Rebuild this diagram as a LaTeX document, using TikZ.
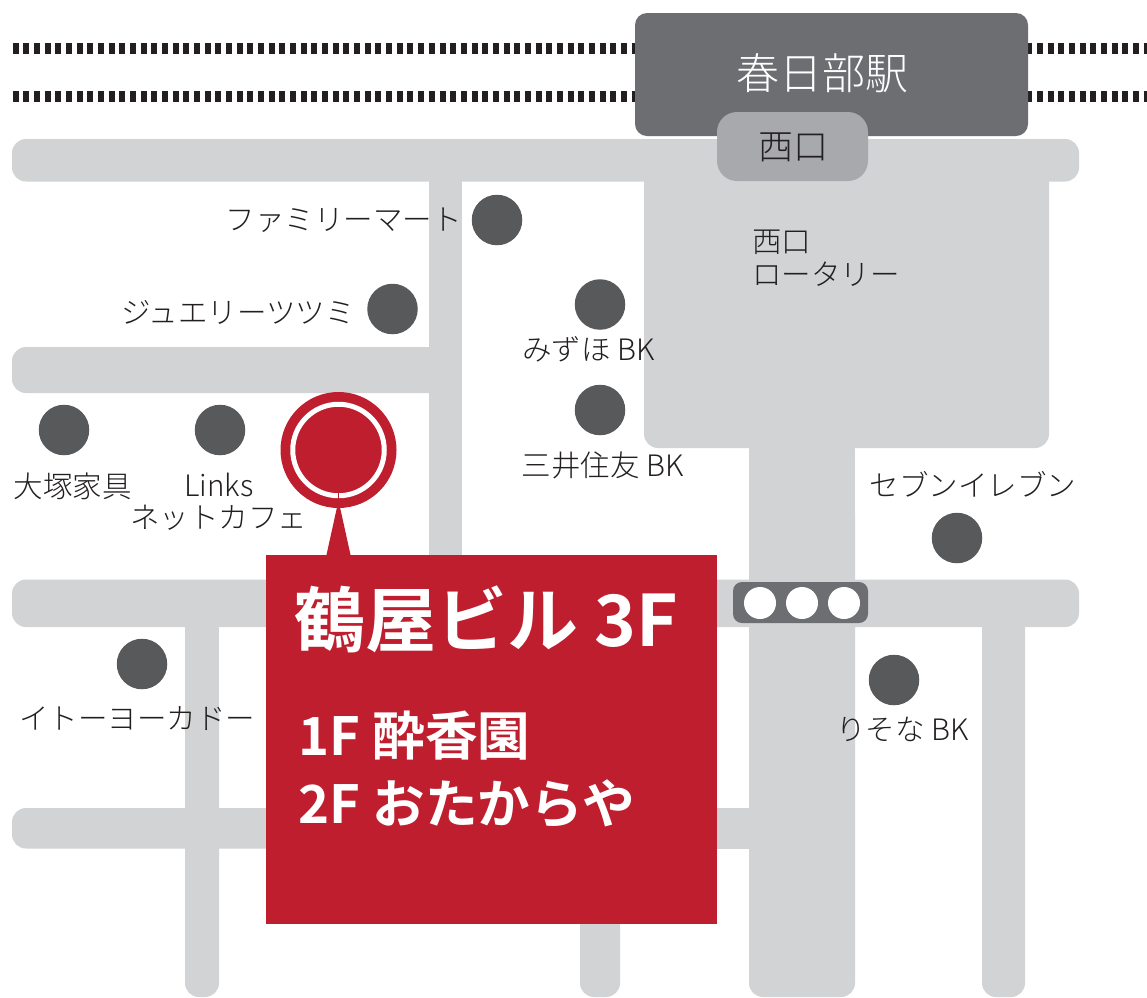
\documentclass[tikz,border=0pt]{standalone}
\usepackage{fontspec}
\IfFontExistsTF{Noto Sans CJK JP Light}{\newfontfamily\thinjp{Noto Sans CJK JP Light}}{\newfontfamily\thinjp{Noto Sans CJK JP}}
\newfontfamily\boldjp{Noto Sans CJK JP Bold}
\definecolor{road}{HTML}{D1D3D4}
\definecolor{station}{HTML}{6D6E71}
\definecolor{exitbox}{HTML}{A7A9AC}
\definecolor{poidot}{HTML}{58595B}
\definecolor{pinred}{HTML}{BE1E2D}
\definecolor{ink}{HTML}{231F20}
\newcommand{\fs}[1]{\fontsize{#1}{#1}\selectfont}
\tikzset{
  roadfill/.style={fill=road,draw=none},
  rail/.style={draw=ink,line width=11pt,dash pattern=on 6pt off 4.67pt},
  poi/.style={circle,fill=poidot,minimum size=50.5pt,inner sep=0pt},
  lab/.style={anchor=base west,inner sep=0pt,text=ink,font=\thinjp\fs{29.5}},
  lamp/.style={circle,fill=white,minimum size=32pt,inner sep=0pt},
  boxtext/.style={anchor=base west,inner sep=0pt,text=white,font=\boldjp\fs{52.6}}
}
\begin{document}
\begin{tikzpicture}[x=1pt,y=-1pt]
\useasboundingbox (0,0) rectangle (1147,997);
\fill[white] (0,0) rectangle (1147,997);
% rails
\coordinate (r1a) at (12.7,48.5); \coordinate (r1b) at (1147,48.5);
\coordinate (r2a) at (12.7,96); \coordinate (r2b) at (1147,96);
\draw[rail] (r1a) -- (r1b);
\draw[rail] (r2a) -- (r2b);
% roads
\fill[roadfill] (429,170) rectangle (462,590);
\fill[roadfill,rounded corners=14pt] (12,139) rectangle (1079,181.5);
\fill[roadfill,rounded corners=14pt] (12,347) rectangle (470,393);
\fill[white] (462,340) rectangle (480,400);
\fill[roadfill,rounded corners=14pt] (12,579.5) rectangle (1079,627);
\fill[roadfill,rounded corners=14pt] (12,808) rectangle (300,848.5);
\fill[roadfill] (280,808) rectangle (750,848.5);
\fill[roadfill,rounded corners=14pt] (185,700) -- (185,997) -- (219,997) -- (219,700) -- cycle;
\fill[roadfill,rounded corners=14pt] (580,880) -- (580,997) -- (620,997) -- (620,880) -- cycle;
\fill[roadfill,rounded corners=14pt] (749,500) -- (749,997) -- (855,997) -- (855,500) -- cycle;
\fill[roadfill,rounded corners=14pt] (982,610) -- (982,997) -- (1025,997) -- (1025,610) -- cycle;
\fill[roadfill] (185,620) rectangle (219,720);
\fill[roadfill] (749,440) rectangle (855,600);
\fill[roadfill] (982,620) rectangle (1025,720);
\fill[roadfill,rounded corners=14pt] (644,160) -- (644,448) -- (1049,448) -- (1049,160) -- cycle;
\fill[roadfill] (644,170) rectangle (1049,230);
% station
\node[fill=station,rounded corners=12pt,minimum width=393pt,minimum height=123pt,inner sep=0pt] (eki) at (831.5,74.5) {};
\node[fill=exitbox,rounded corners=20pt,minimum width=151pt,minimum height=69pt,inner sep=0pt] (exitb) at (792.5,146.5) {};
\node[lab,font=\thinjp\fs{43},text=white] (ekiname) at (736,89) {春日部駅};
\node[lab,font=\thinjp\fs{35}] (exitname) at (758,159) {西口};
% points of interest
\node[poi] (famima) at (497,220) {};
\node[poi] (jewel) at (392.5,309) {};
\node[poi] (mizuho) at (600,304.5) {};
\node[poi] (mitsui) at (600,410) {};
\node[poi] (otsuka) at (64,430) {};
\node[poi] (links) at (220,430) {};
\node[poi] (ito) at (142,664) {};
\node[poi] (resona) at (894,680) {};
\node[poi] (seven) at (957,538) {};
% labels
\node[lab] (t1) at (225.5,230) {ファミリーマート};
\node[lab] (t2) at (121,323) {ジュエリーツツミ};
\node[lab] (t3) at (522,360) {みずほ BK};
\node[lab] (t4) at (521.5,476) {三井住友 BK};
\node[lab] (t5) at (13.5,497) {大塚家具};
\node[lab] (t6) at (184,496) {Links};
\node[lab] (t7) at (130,528) {ネットカフェ};
\node[lab] (t8) at (19,729) {イトーヨーカドー};
\node[lab] (t9) at (836,740) {りそな BK};
\node[lab] (t10) at (869.5,496) {セブンイレブン};
\node[lab] (t11) at (752,252) {西口};
\node[lab] (t12) at (752,285) {ロータリー};
% traffic signal
\node[fill=station,rounded corners=9pt,minimum width=135pt,minimum height=41pt,inner sep=0pt] (signal) at (800.5,602.5) {};
\node[lamp] (s1) at (760,603) {};
\node[lamp] (s2) at (802,603) {};
\node[lamp] (s3) at (844,603) {};
% pin
\node[circle,fill=pinred,minimum size=116pt,inner sep=0pt] (pin) at (338.5,450) {};
\node[circle,draw=white,line width=5pt,minimum size=91.5pt,inner sep=0pt] (pinring) at (338.5,450) {};
\fill[pinred] (337.7,490) rectangle (339.3,500);
\fill[pinred] (337.5,505) -- (326,557) -- (351,557) -- (339.5,505) -- cycle;
% box
\node[fill=pinred,minimum width=451pt,minimum height=369pt,inner sep=0pt] (bigbox) at (491.5,739.5) {};
\node[boxtext,font=\boldjp\fs{71}] (b1) at (294,646) {鶴屋ビル 3F};
\node[boxtext] (b2) at (298.5,755) {1F 酔香園};
\node[boxtext] (b3) at (298.5,823) {2F おたからや};
\end{tikzpicture}
\end{document}
